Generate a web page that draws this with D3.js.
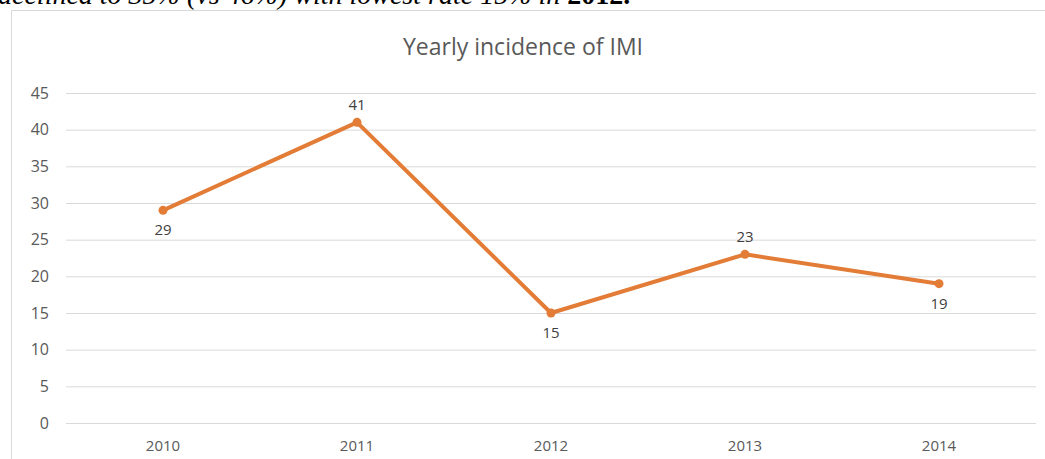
<!DOCTYPE html>
<html><head><meta charset="utf-8">
<script src="https://cdn.jsdelivr.net/npm/d3@7"></script>
<style>
html,body{margin:0;padding:0;background:#fff;overflow:hidden;}
</style></head>
<body>
<svg id="chart" width="1045" height="459"></svg>
<script>
const years = ["2010","2011","2012","2013","2014"];
const incidence = [29, 41, 15, 23, 19];
const labelPos = ["below","above","below","above","below"];
const yTicks = [0,5,10,15,20,25,30,35,40,45];
const title = "Yearly incidence of IMI";
const captionItalic = "declined to 35% (vs 46%) with lowest rate 15% in ";
const captionBold = "2012.";

const svg = d3.select("#chart");
const W = 1045, H = 459;
const plot = {left: 66, right: 1036, top: 93, bottom: 423};

// caption text (cut at top, as in the source)
const cap = svg.append("text").attr("x", -2).attr("y", 4)
  .attr("font-family", "Liberation Serif, serif").attr("font-size", 28).attr("fill", "#000");
cap.append("tspan").attr("font-style", "italic").text(captionItalic);
cap.append("tspan").attr("font-weight", "bold").text(captionBold);

// chart frame
svg.append("path").attr("d", `M11.5,${H} L11.5,10.5 L${W},10.5`)
  .attr("fill", "none").attr("stroke", "#d9d9d9").attr("stroke-width", 1);

const x = d3.scaleBand().domain(years).range([plot.left, plot.right]);
const y = d3.scaleLinear().domain([0,45]).range([plot.bottom, plot.top]);

const fam = "Open Sans, sans-serif";

// gridlines + y labels
const yAxis = d3.axisLeft(y).tickValues(yTicks).tickSize(-(plot.right - plot.left)).tickPadding(17);
const gy = svg.append("g").attr("transform", `translate(${plot.left},0)`).call(yAxis);
gy.select(".domain").remove();
gy.selectAll(".tick line").attr("stroke", "#d9d9d9").attr("stroke-width", 1);
gy.selectAll(".tick text").attr("fill", "#595959").attr("font-family", fam).attr("font-size", 16);

const xAxis = d3.axisBottom(x).tickSize(0).tickPadding(17);
const gx = svg.append("g").attr("transform", `translate(0,${plot.bottom})`).call(xAxis);
gx.select(".domain").remove();
gx.selectAll(".tick text").attr("fill", "#595959").attr("font-family", fam).attr("font-size", 15);

// title
svg.append("text").attr("x", 523).attr("y", 55).attr("text-anchor", "middle")
  .attr("fill", "#595959").attr("font-family", fam).attr("font-size", 23)
  .text(title);

const cx = d => x(d) + x.bandwidth()/2;
const pts = years.map((yr,i) => ({yr, v: incidence[i], pos: labelPos[i]}));

const line = d3.line().x(d => cx(d.yr)).y(d => y(d.v));
svg.append("path").datum(pts).attr("d", line)
  .attr("fill", "none").attr("stroke", "#E27C36").attr("stroke-width", 4)
  .attr("stroke-linejoin", "round").attr("stroke-linecap", "round");

svg.selectAll("circle.pt").data(pts).enter().append("circle")
  .attr("cx", d => cx(d.yr)).attr("cy", d => y(d.v)).attr("r", 4.5).attr("fill", "#E27C36");

svg.selectAll("text.lbl").data(pts).enter().append("text")
  .attr("x", d => cx(d.yr))
  .attr("y", d => d.pos === "above" ? y(d.v) - 12 : y(d.v) + 25)
  .attr("text-anchor", "middle").attr("fill", "#404040")
  .attr("font-family", fam).attr("font-size", 15)
  .text(d => d.v);
</script>
</body></html>
